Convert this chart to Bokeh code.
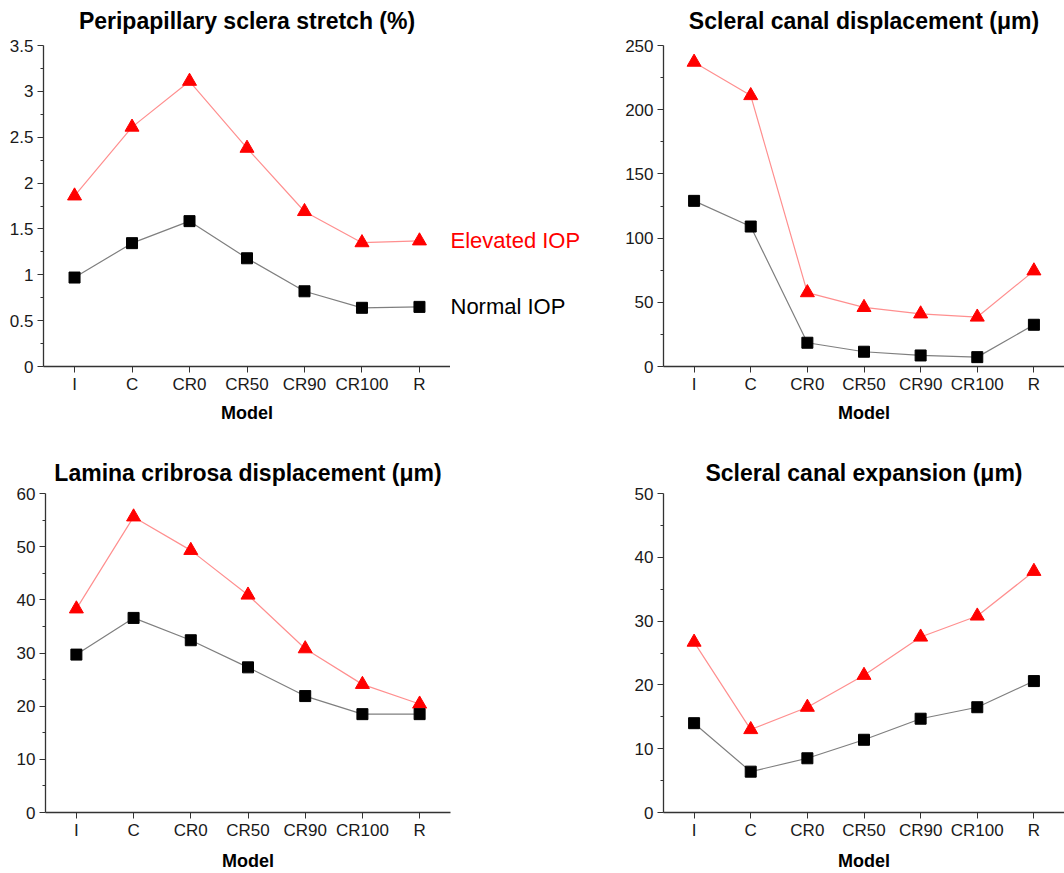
import numpy as np
from bokeh.plotting import figure
from bokeh.layouts import column, row
from bokeh.models import FactorRange, Range1d, FixedTicker, NumeralTickFormatter, LinearAxis
from bokeh.core.properties import value
from bokeh.embed import file_html
from bokeh.resources import INLINE

models = ["I", "C", "CR0", "CR50", "CR90", "CR100", "R"]

stretch_normal = [0.97, 1.345, 1.585, 1.18, 0.82, 0.64, 0.65]
stretch_elevated = [1.86, 2.61, 3.11, 2.38, 1.69, 1.35, 1.37]

canal_disp_normal = [129, 109, 18.5, 11.5, 8.6, 7.3, 32.5]
canal_disp_elevated = [237, 211, 57.5, 46, 41, 38.5, 74.5]

lamina_normal = [29.7, 36.6, 32.4, 27.3, 21.9, 18.5, 18.5]
lamina_elevated = [38.3, 55.6, 49.3, 40.9, 30.8, 24.1, 20.4]

expansion_normal = [14.0, 6.4, 8.5, 11.4, 14.7, 16.5, 20.6]
expansion_elevated = [26.7, 13.0, 16.5, 21.5, 27.5, 30.8, 37.8]

series_names = ["Elevated IOP", "Normal IOP"]

FONT = "Liberation Sans"
AXIS_COLOR = "#333333"
TEXT_COLOR = "#1a1a1a"
ELEV_MARK = "#ff0000"
ELEV_LINE = "#ff8f8f"
NORM_MARK = "black"
NORM_LINE = "#7f7f7f"


def panel(title, normal, elevated, ymax, step, fmt, left, fw, right, top, fh, bottom,
          title_standoff, xlabel_standoff):
    p = figure(
        x_range=FactorRange(factors=models, range_padding=0.04, range_padding_units="absolute"),
        y_range=Range1d(0, ymax),
        frame_width=fw, frame_height=fh,
        min_border_left=left, min_border_right=right,
        min_border_top=top, min_border_bottom=bottom,
        toolbar_location=None, output_backend="svg",
    )
    p.outline_line_color = None
    p.xgrid.grid_line_color = None
    p.ygrid.grid_line_color = None
    p.background_fill_color = "white"
    p.border_fill_color = "white"

    # panel heading, carried by a bare axis above the frame
    tax = LinearAxis(ticker=FixedTicker(ticks=[]), axis_line_color=None,
                     major_tick_in=0, major_tick_out=0, minor_tick_in=0, minor_tick_out=0,
                     major_label_text_font_size="0px",
                     axis_label=title, axis_label_standoff=title_standoff,
                     axis_label_text_font=FONT, axis_label_text_font_size="23px",
                     axis_label_text_font_style="bold", axis_label_text_color="black")
    p.add_layout(tax, "above")

    ticks = list(np.round(np.arange(0, ymax + step / 2, step), 6))
    minors = list(np.round(np.arange(step / 2, ymax, step), 6))
    p.yaxis.ticker = FixedTicker(ticks=ticks, minor_ticks=minors)
    p.yaxis.formatter = NumeralTickFormatter(format=fmt)

    for ax in (p.below[0], p.left[0]):
        ax.axis_line_color = AXIS_COLOR
        ax.axis_line_width = 1.3
        ax.major_tick_line_color = AXIS_COLOR
        ax.minor_tick_line_color = AXIS_COLOR
        ax.major_tick_in = 0
        ax.major_tick_out = 6
        ax.minor_tick_in = 0
        ax.minor_tick_out = 3
        ax.major_label_text_font = FONT
        ax.major_label_text_font_size = "17px"
        ax.major_label_text_color = TEXT_COLOR
    p.left[0].major_label_standoff = 4
    xa = p.below[0]
    xa.major_label_standoff = 2
    xa.axis_label = "Model"
    xa.axis_label_text_font = FONT
    xa.axis_label_text_font_size = "18px"
    xa.axis_label_text_font_style = "bold"
    xa.axis_label_text_color = "black"
    xa.axis_label_standoff = xlabel_standoff

    p.line(models, elevated, line_color=ELEV_LINE, line_width=1.2)
    p.scatter(models, elevated, marker="triangle", size=14, fill_color=ELEV_MARK, line_color=ELEV_MARK)
    p.line(models, normal, line_color=NORM_LINE, line_width=1.2)
    p.scatter(models, normal, marker="square", size=11, fill_color=NORM_MARK, line_color=NORM_MARK)
    return p


p1 = panel("Peripapillary sclera stretch (%)", stretch_normal, stretch_elevated, 3.5, 0.5, "0.[0]",
           43, 407, 0, 45, 321, 64, 12, 6)

# side labels of the first panel, sharing its y scale
leg = figure(x_range=Range1d(0, 1), y_range=p1.y_range, x_axis_type=None, y_axis_type=None,
             frame_width=153, frame_height=321, min_border_left=0, min_border_right=0,
             min_border_top=45, min_border_bottom=64,
             toolbar_location=None, output_backend="svg")
leg.outline_line_color = None
leg.grid.grid_line_color = None
leg.text(x=[0, 0], y=[stretch_elevated[-1], stretch_normal[-1]], text=series_names,
         text_color=[ELEV_MARK, NORM_MARK], text_font=value(FONT), text_font_size="22px",
         text_baseline="middle", text_align="left")

p2 = panel("Scleral canal displacement (\u03bcm)", canal_disp_normal, canal_disp_elevated, 250, 50, "0",
           60, 401, 0, 45, 321, 64, 12, 6)
p3 = panel("Lamina cribrosa displacement (\u03bcm)", lamina_normal, lamina_elevated, 60, 10, "0",
           45, 405, 153, 63, 319, 61, 8, 8)
p4 = panel("Scleral canal expansion (\u03bcm)", expansion_normal, expansion_elevated, 50, 10, "0",
           60, 401, 0, 63, 319, 61, 8, 8)

layout = column(row(p1, leg, p2), row(p3, p4))
open("out.html", "w").write(file_html(layout, INLINE))
